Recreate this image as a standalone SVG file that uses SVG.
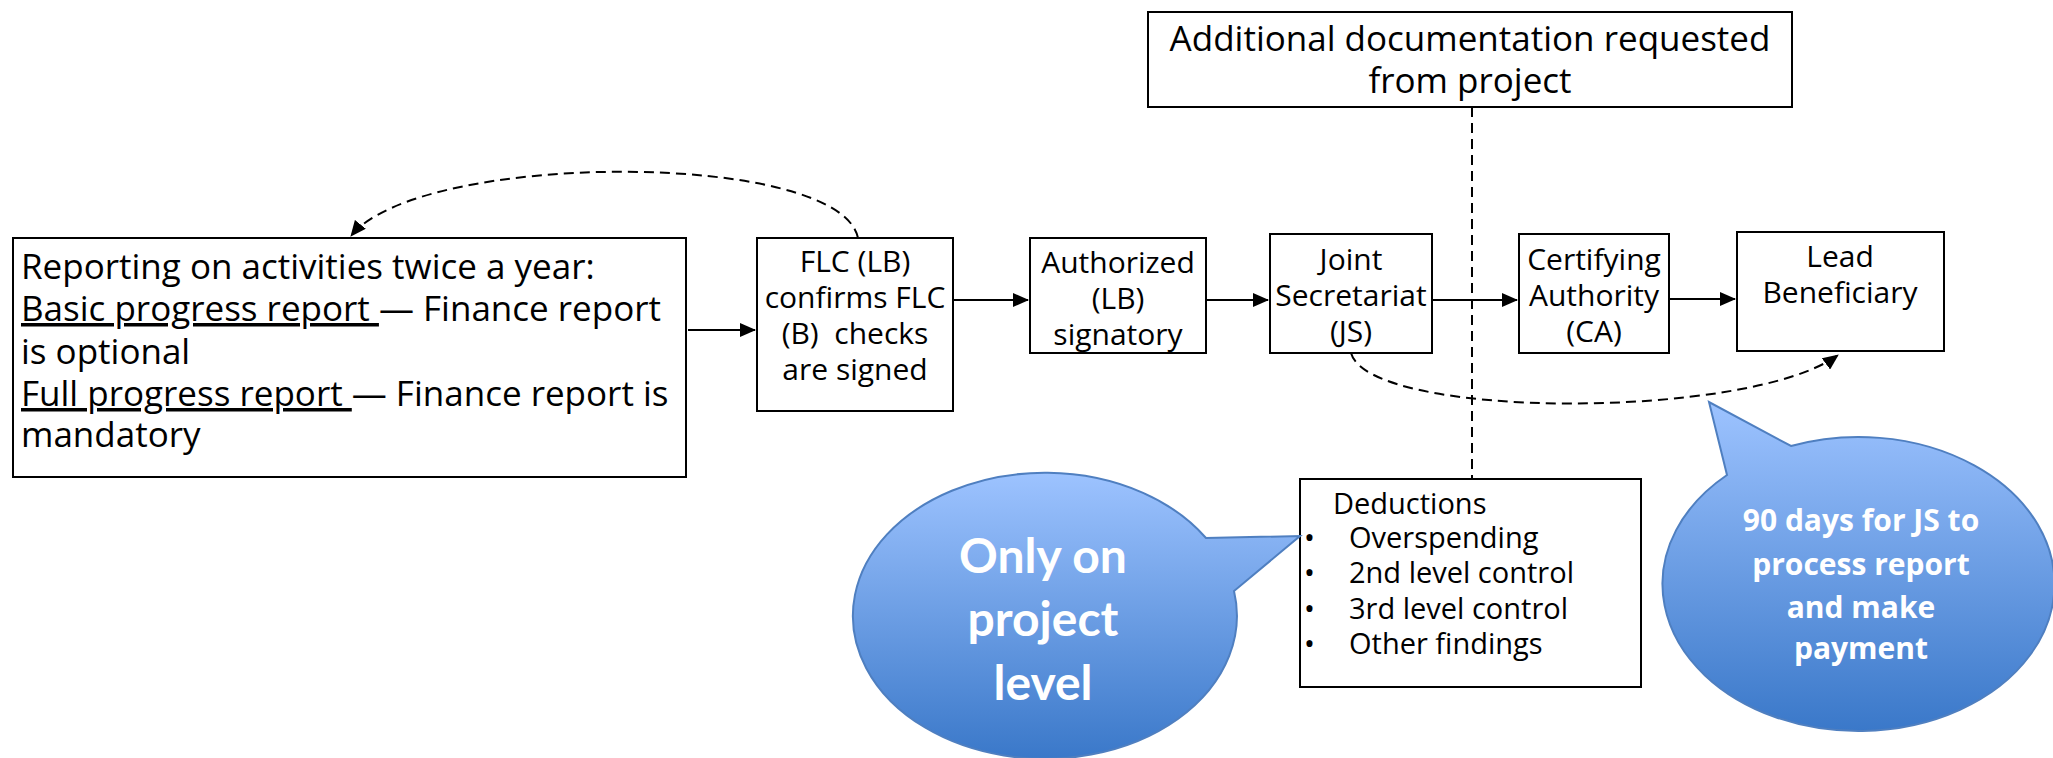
<svg xmlns="http://www.w3.org/2000/svg" width="2053" height="758" viewBox="0 0 2053 758">
<defs>
<style>
.box{fill:#fff;stroke:#000;stroke-width:2}
.t{font-family:"Open Sans","Liberation Sans",sans-serif;fill:#000}
.n{font-size:30px;text-anchor:middle}
.big{font-size:35px}
.d{font-size:29px}
.con{fill:none;stroke:#000;stroke-width:2}
.dash{fill:none;stroke:#000;stroke-width:2;stroke-dasharray:10 6}
.bub{stroke:#4F7FC0;stroke-width:2}
.bt1{font-family:Lato,"Open Sans",sans-serif;font-weight:bold;font-size:48px;fill:#fff;text-anchor:middle}
.bt2{font-family:"Open Sans","Liberation Sans",sans-serif;font-weight:bold;font-size:30px;fill:#fff;text-anchor:middle}
</style>
<marker id="ah" markerUnits="userSpaceOnUse" markerWidth="16" markerHeight="14" refX="15" refY="7" orient="auto">
<path d="M0,0 L16,7 L0,14 Z" fill="#000"/>
</marker>
<linearGradient id="g" x1="0" y1="0" x2="0" y2="1">
<stop offset="0" stop-color="#9DC3FF"/>
<stop offset="1" stop-color="#3A78C9"/>
</linearGradient>
</defs>

<g id="connectors">
<line class="con" x1="688" y1="330" x2="755" y2="330" marker-end="url(#ah)"/>
<line class="con" x1="953" y1="300" x2="1028" y2="300" marker-end="url(#ah)"/>
<line class="con" x1="1206" y1="300" x2="1268" y2="300" marker-end="url(#ah)"/>
<line class="con" x1="1432" y1="300" x2="1517" y2="300" marker-end="url(#ah)"/>
<line class="con" x1="1669" y1="299" x2="1735" y2="299" marker-end="url(#ah)"/>
<path class="dash" d="M858 238 C840 150 420 150 351 236" marker-end="url(#ah)"/>
<path class="dash" d="M1351 353 C1370 420 1750 420 1838 355" marker-end="url(#ah)"/>
<line class="dash" x1="1472" y1="107" x2="1472" y2="479"/>
</g>

<g id="node-report">
<rect class="box" x="13" y="238" width="673" height="239"/>
<text class="t big" x="21" y="279">Reporting on activities twice a year:</text>
<text class="t big" x="21" y="321"><tspan text-decoration="underline">Basic progress report </tspan>— Finance report</text>
<text class="t big" x="21" y="364">is optional</text>
<text class="t big" x="21" y="406"><tspan text-decoration="underline">Full progress report </tspan>— Finance report is</text>
<text class="t big" x="21" y="447">mandatory</text>
</g>

<g id="node-flc">
<rect class="box" x="757" y="238" width="196" height="173"/>
<text class="t n" x="855" y="272">FLC (LB)</text>
<text class="t n" x="855" y="308">confirms FLC</text>
<text class="t n" x="855" y="344" xml:space="preserve">(B)  checks</text>
<text class="t n" x="855" y="380">are signed</text>
</g>

<g id="node-auth">
<rect class="box" x="1030" y="238" width="176" height="115"/>
<text class="t n" x="1118" y="273">Authorized</text>
<text class="t n" x="1118" y="309">(LB)</text>
<text class="t n" x="1118" y="345">signatory</text>
</g>

<g id="node-js">
<rect class="box" x="1270" y="234" width="162" height="119"/>
<text class="t n" x="1351" y="270">Joint</text>
<text class="t n" x="1351" y="306">Secretariat</text>
<text class="t n" x="1351" y="342">(JS)</text>
</g>

<g id="node-ca">
<rect class="box" x="1519" y="234" width="150" height="119"/>
<text class="t n" x="1594" y="270">Certifying</text>
<text class="t n" x="1594" y="306">Authority</text>
<text class="t n" x="1594" y="342">(CA)</text>
</g>

<g id="node-lb">
<rect class="box" x="1737" y="232" width="207" height="119"/>
<text class="t n" x="1840" y="267">Lead</text>
<text class="t n" x="1840" y="303">Beneficiary</text>
</g>

<g id="node-additional">
<rect class="box" x="1148" y="12" width="644" height="95"/>
<text class="t big" x="1470" y="51" text-anchor="middle">Additional documentation requested</text>
<text class="t big" x="1470" y="93" text-anchor="middle">from project</text>
</g>

<g id="node-deductions">
<rect class="box" x="1300" y="479" width="341" height="208"/>
<text class="t d" x="1333" y="514">Deductions</text>
<text class="t d" x="1304" y="548">•</text>
<text class="t d" x="1349" y="548">Overspending</text>
<text class="t d" x="1304" y="583">•</text>
<text class="t d" x="1349" y="583">2nd level control</text>
<text class="t d" x="1304" y="619">•</text>
<text class="t d" x="1349" y="619">3rd level control</text>
<text class="t d" x="1304" y="654">•</text>
<text class="t d" x="1349" y="654">Other findings</text>
</g>

<g id="callout-project">
<path class="bub" fill="url(#g)" d="M1206 538 L1300 536 L1234 591 A192 143 0 1 1 1206 538 Z"/>
<text class="bt1" x="1043" y="573">Only on</text>
<text class="bt1" x="1043" y="636">project</text>
<text class="bt1" x="1043" y="700">level</text>
</g>

<g id="callout-days">
<path class="bub" fill="url(#g)" d="M1727 475 L1709 402 L1791 446 A196 147 0 1 1 1727 475 Z"/>
<text class="bt2" x="1861" y="531">90 days for JS to</text>
<text class="bt2" x="1861" y="575">process report</text>
<text class="bt2" x="1861" y="618">and make</text>
<text class="bt2" x="1861" y="659">payment</text>
</g>
</svg>
